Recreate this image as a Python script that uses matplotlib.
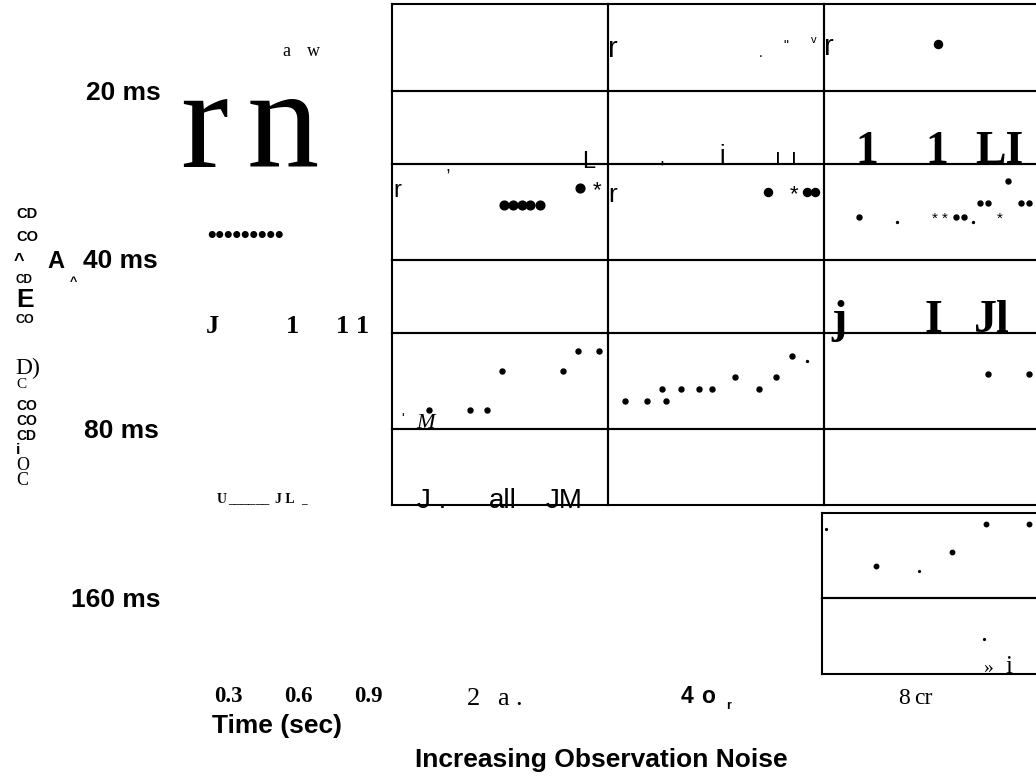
#!/usr/bin/env python3
"""
Observation-noise panel grid: dot traces per delay / noise level,
with the scanned labels placed around the grid.
"""
import matplotlib
matplotlib.use("Agg")
import matplotlib.pyplot as plt

W, H = 1036, 776
SANS = "Liberation Sans"
SERIF = "Liberation Serif"

# panel grid, in pixels
col_left = [392, 608, 824]
cell_w = 216
row_edges = [4, 91, 164, 260, 333, 429, 505]
low_box = (822, 513, 598, 674)   # left, top, middle, bottom

# dot data per panel: time (fraction of panel) and value (fraction of panel)
t_r0c2 = [0.53]
v_r0c2 = [0.54]

t_r2c0 = [0.52, 0.56, 0.60, 0.64, 0.685, 0.87]
v_r2c0 = [0.57, 0.57, 0.57, 0.57, 0.57, 0.75]

t_r2c1 = [0.74, 0.92, 0.96]
v_r2c1 = [0.71, 0.71, 0.71]

t_r2c2 = [0.16, 0.61, 0.65, 0.72, 0.76, 0.85, 0.91, 0.95]
v_r2c2 = [0.45, 0.45, 0.45, 0.59, 0.59, 0.82, 0.59, 0.59]
t_r2c2_faint = [0.34, 0.69]
v_r2c2_faint = [0.40, 0.40]

t_r4c0 = [0.17, 0.36, 0.44, 0.51, 0.79, 0.86, 0.96]
v_r4c0 = [0.20, 0.20, 0.20, 0.60, 0.60, 0.81, 0.81]

t_r4c1 = [0.08, 0.18, 0.27, 0.25, 0.34, 0.42, 0.48, 0.59, 0.70, 0.78, 0.85]
v_r4c1 = [0.29, 0.29, 0.29, 0.42, 0.42, 0.42, 0.42, 0.54, 0.42, 0.54, 0.76]
t_r4c1_faint = [0.92]
v_r4c1_faint = [0.71]

t_r4c2 = [0.76, 0.95]
v_r4c2 = [0.57, 0.57]

t_low_top = [0.25, 0.60, 0.76, 0.96]
v_low_top = [0.38, 0.54, 0.87, 0.87]
t_low_top_faint = [0.02, 0.45]
v_low_top_faint = [0.81, 0.32]

t_low_bot_faint = [0.75]
v_low_bot_faint = [0.46]

fig = plt.figure(figsize=(W / 100, H / 100), dpi=100)


def panel(x0, y0, x1, y1):
    ax = fig.add_axes([x0 / W, 1 - y1 / H, (x1 - x0) / W, (y1 - y0) / H])
    ax.set_xlim(0, 1)
    ax.set_ylim(0, 1)
    ax.set_xticks([])
    ax.set_yticks([])
    ax.patch.set_alpha(0)
    for sp in ax.spines.values():
        sp.set_linewidth(1.5)
        sp.set_color("black")
    return ax


def label(x, y, s, size, family=SANS, weight="normal", style="normal",
          ha="left", va="baseline"):
    fig.text(x / W, 1 - y / H, s, fontsize=size, family=family,
             weight=weight, style=style, ha=ha, va=va, color="black")


def dots(ax, t, v, ms):
    ax.plot(t, v, "o", color="black", ms=ms, ls="none", clip_on=False)


grid = []
for i in range(len(row_edges) - 1):
    row = []
    for x0 in col_left:
        row.append(panel(x0, row_edges[i], x0 + cell_w, row_edges[i + 1]))
    grid.append(row)

lx, ltop, lmid, lbot = low_box
ax_low_top = panel(lx, ltop, lx + cell_w, lmid)
ax_low_bot = panel(lx, lmid, lx + cell_w, lbot)

dots(grid[0][2], t_r0c2, v_r0c2, 5.8)
dots(grid[2][0], t_r2c0, v_r2c0, 6.3)
dots(grid[2][1], t_r2c1, v_r2c1, 5.8)
dots(grid[2][2], t_r2c2, v_r2c2, 3.6)
dots(grid[2][2], t_r2c2_faint, v_r2c2_faint, 1.4)
dots(grid[4][0], t_r4c0, v_r4c0, 3.6)
dots(grid[4][1], t_r4c1, v_r4c1, 3.6)
dots(grid[4][1], t_r4c1_faint, v_r4c1_faint, 1.4)
dots(grid[4][2], t_r4c2, v_r4c2, 3.6)
dots(ax_low_top, t_low_top, v_low_top, 3.2)
dots(ax_low_top, t_low_top_faint, v_low_top_faint, 1.3)
dots(ax_low_bot, t_low_bot_faint, v_low_bot_faint, 1.3)

# row labels (delays)
label(86, 100, "20 ms", 19, weight="bold")
label(83, 268, "40 ms", 19, weight="bold")
label(84, 438, "80 ms", 19, weight="bold")
label(71, 607, "160 ms", 19, weight="bold")

# rotated y-axis title, as scanned
label(16, 218, "CD", 10.5, weight="bold")
label(16, 241, "CO", 10.5, weight="bold")
label(14, 266, "^", 13, weight="bold")
label(47, 268, "A", 17, weight="bold")
label(70, 285, "^", 9, weight="bold")
label(16, 283, "CD", 8.5, weight="bold")
label(16, 307, "E", 19, weight="bold")
label(16, 323, "CO", 9, weight="bold")
label(15, 374, "D)", 17, family=SERIF)
label(16, 388, "C", 11, family=SERIF)
label(16, 410, "CO", 10, weight="bold")
label(16, 425, "CO", 10, weight="bold")
label(16, 440, "CD", 10, weight="bold")
label(16, 454, "i", 11, weight="bold")
label(16, 470, "O", 13, family=SERIF)
label(16, 485, "C", 13, family=SERIF)

# left-hand example trace area
label(282, 56, "a", 13, family=SERIF)
label(307, 56, "w", 13, family=SERIF)
label(180, 167, "r", 104, family=SERIF)
label(247, 167, "n", 104, family=SERIF)
label(246, 242, "\u2022" * 9, 17.5, weight="bold", ha="center")
label(206, 333, "J", 19, family=SERIF, weight="bold")
label(286, 333, "1", 19, family=SERIF, weight="bold")
label(336, 333, "1 1", 19, family=SERIF, weight="bold")
label(217, 503, "U", 10, family=SERIF, weight="bold")
label(228, 503, "______", 10, family=SERIF, weight="bold")
label(275, 503, "J L", 10, family=SERIF, weight="bold")
label(301, 503, "_", 8, family=SERIF, weight="bold")

# time axis
label(228, 702, "0.3", 16.5, family=SERIF, weight="bold", ha="center")
label(298, 702, "0.6", 16.5, family=SERIF, weight="bold", ha="center")
label(368, 702, "0.9", 16.5, family=SERIF, weight="bold", ha="center")
label(212, 733, "Time (sec)", 19, weight="bold")

# noise levels
label(467, 705, "2", 19, family=SERIF)
label(497, 705, "a", 19, family=SERIF)
label(515, 705, ".", 19, family=SERIF)
label(681, 703, "4", 16.5, weight="bold")
label(701, 703, "o", 16.5, weight="bold")
label(726, 709, "r", 9, weight="bold")
label(898, 704, "8", 17, family=SERIF)
label(914, 704, "cr", 17, family=SERIF)
label(415, 767, "Increasing Observation Noise", 19, weight="bold")

# marks inside the panels
label(608, 57, "r", 21)
label(759, 57, ".", 10)
label(783, 50, '"', 10)
label(811, 43, "v", 8)
label(824, 55, "r", 21)
label(582, 168, "L", 17)
label(445, 171, ",", 13)
label(659, 164, ",", 13)
label(719, 163, "i", 18)
label(776, 163, "l", 10, weight="bold")
label(792, 163, "l", 10, weight="bold")
label(855, 163, "1", 33, family=SERIF, weight="bold")
label(925, 163, "1", 33, family=SERIF, weight="bold")
label(975, 163, "LI", 33, family=SERIF, weight="bold")
label(393, 197, "r", 17)
label(608, 202, "r", 19)
label(593, 196, "*", 16)
label(790, 200, "*", 16)
label(932, 223, "*", 11)
label(942, 223, "*", 11)
label(997, 223, "*", 11)
label(831, 332, "j", 33, family=SERIF, weight="bold")
label(925, 332, "I", 33, family=SERIF, weight="bold")
label(974, 332, "Jl", 33, family=SERIF, weight="bold")
label(401, 423, "'", 10)
label(416, 428, "M", 16, family=SERIF, style="italic")
label(417, 508, "J .", 20)
label(489, 508, "all", 20)
label(546, 508, "JM", 20)
label(983, 673, "\u00bb", 14, family=SERIF)
label(1005, 673, "i", 18, family=SERIF)

fig.savefig("out.png", dpi=100)
plt.close(fig)
